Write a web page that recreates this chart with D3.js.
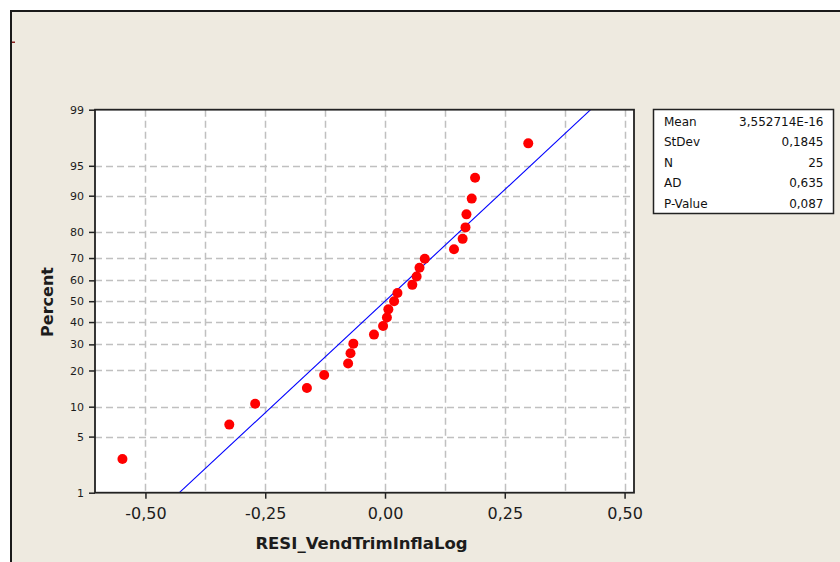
<!DOCTYPE html>
<html>
<head>
<meta charset="utf-8">
<script src="https://cdn.jsdelivr.net/npm/d3@7/dist/d3.min.js"></script>
<style>
  html, body { margin: 0; padding: 0; background: #ffffff; }
  svg { display: block; }
  text { font-family: "DejaVu Sans", Verdana, sans-serif; }
</style>
</head>
<body>
<svg id="chart" width="840" height="562"></svg>
<script>
// ---------------- data ----------------
const residuals = [-0.548, -0.325, -0.271, -0.163, -0.127, -0.077, -0.072, -0.066, -0.023, -0.004,
                   0.004, 0.007, 0.019, 0.026, 0.057, 0.066, 0.072, 0.083, 0.144, 0.162,
                   0.168, 0.170, 0.181, 0.188, 0.299];
const percents = [2.76, 6.69, 10.63, 14.57, 18.50, 22.44, 26.38, 30.31, 34.25, 38.19,
                  42.13, 46.06, 50.00, 53.94, 57.87, 61.81, 65.75, 69.69, 73.62, 77.56,
                  81.50, 85.43, 89.37, 93.31, 97.24];
const yTickValues = [1, 5, 10, 20, 30, 40, 50, 60, 70, 80, 90, 95, 99];
const xTickValues = [-0.5, -0.25, 0, 0.25, 0.5];
const xGridValues = [-0.5, -0.375, -0.25, -0.125, 0, 0.125, 0.25, 0.375, 0.5];
const statsLabels = ["Mean", "StDev", "N", "AD", "P-Value"];
const statsValues = ["3,552714E-16", "0,1845", "25", "0,635", "0,087"];
const fitMean = 3.552714e-16;
const fitSd = 0.1845;
const xTitle = "RESI_VendTrimInflaLog";
const yTitle = "Percent";

// inverse standard normal CDF (Acklam)
function qnorm(p) {
  const a = [-3.969683028665376e+01, 2.209460984245205e+02, -2.759285104469687e+02, 1.383577518672690e+02, -3.066479806614716e+01, 2.506628277459239e+00];
  const b = [-5.447609879822406e+01, 1.615858368580409e+02, -1.556989798598866e+02, 6.680131188771972e+01, -1.328068155288572e+01];
  const c = [-7.784894002430293e-03, -3.223964580411365e-01, -2.400758277161838e+00, -2.549732539343734e+00, 4.374664141464968e+00, 2.938163982698783e+00];
  const d = [7.784695709041462e-03, 3.224671290700398e-01, 2.445134137142996e+00, 3.754408661907416e+00];
  const pl = 0.02425, ph = 1 - pl;
  let q, r;
  if (p < pl) {
    q = Math.sqrt(-2 * Math.log(p));
    return (((((c[0]*q+c[1])*q+c[2])*q+c[3])*q+c[4])*q+c[5]) / ((((d[0]*q+d[1])*q+d[2])*q+d[3])*q+1);
  } else if (p <= ph) {
    q = p - 0.5; r = q * q;
    return (((((a[0]*r+a[1])*r+a[2])*r+a[3])*r+a[4])*r+a[5])*q / (((((b[0]*r+b[1])*r+b[2])*r+b[3])*r+b[4])*r+1);
  } else {
    q = Math.sqrt(-2 * Math.log(1 - p));
    return -(((((c[0]*q+c[1])*q+c[2])*q+c[3])*q+c[4])*q+c[5]) / ((((d[0]*q+d[1])*q+d[2])*q+d[3])*q+1);
  }
}
const zOf = pct => qnorm(pct / 100);

// ---------------- layout ----------------
const svg = d3.select("#chart");
const plot = { left: 95, top: 109.7, right: 634, bottom: 492.7 };

// frame background
svg.append("rect").attr("x", 11).attr("y", 11).attr("width", 840).attr("height", 562)
  .attr("fill", "#EEEAE0").attr("stroke", "#1a1a1a").attr("stroke-width", 2);
svg.append("rect").attr("x", 12).attr("y", 41.5).attr("width", 3).attr("height", 1.5).attr("fill", "#8b2020");

const x = d3.scaleLinear().domain([-0.6053, 0.5197]).range([plot.left, plot.right]);
const y = d3.scaleLinear().domain([zOf(1), zOf(99)]).range([plot.bottom, plot.top]);

// plot area
svg.append("rect").attr("x", plot.left).attr("y", plot.top)
  .attr("width", plot.right - plot.left).attr("height", plot.bottom - plot.top)
  .attr("fill", "#ffffff");

// grid
const grid = svg.append("g").attr("stroke", "#c0c0c0").attr("stroke-width", 1.5).attr("stroke-dasharray", "7,4");
grid.selectAll("line.v").data(xGridValues).enter().append("line")
  .attr("x1", d => Math.round(x(d)) + 0.5).attr("x2", d => Math.round(x(d)) + 0.5)
  .attr("y1", plot.top).attr("y2", plot.bottom);
grid.selectAll("line.h").data(yTickValues.filter(v => v !== 1 && v !== 99)).enter().append("line")
  .attr("y1", d => Math.round(y(zOf(d))) + 0.5).attr("y2", d => Math.round(y(zOf(d))) + 0.5)
  .attr("x1", plot.left).attr("x2", plot.right);

// fitted line
const zLo = zOf(1), zHi = zOf(99);
const fitPts = [[fitMean + fitSd * zLo, zLo], [fitMean + fitSd * zHi, zHi]];
svg.append("path").datum(fitPts)
  .attr("d", d3.line().x(d => x(d[0])).y(d => y(d[1])))
  .attr("stroke", "#0000ff").attr("stroke-width", 1.1).attr("fill", "none");

// points
svg.append("g").selectAll("circle").data(residuals).enter().append("circle")
  .attr("cx", d => x(d)).attr("cy", (d, i) => y(zOf(percents[i])))
  .attr("r", 5).attr("fill", "#ff0000");

// border of plot
svg.append("rect").attr("x", plot.left).attr("y", plot.top)
  .attr("width", plot.right - plot.left).attr("height", plot.bottom - plot.top)
  .attr("fill", "none").attr("stroke", "#222222").attr("stroke-width", 1.8);

// axes
const yAxis = d3.axisLeft(y).tickValues(yTickValues.map(zOf))
  .tickFormat((d, i) => String(yTickValues[i])).tickSize(6).tickPadding(5);
const gy = svg.append("g").attr("transform", `translate(${plot.left},0)`).call(yAxis);
gy.select(".domain").remove();
gy.selectAll("line").attr("stroke", "#222").attr("stroke-width", 1.5);
gy.selectAll("text").attr("font-size", 11).attr("fill", "#1c1c1c")
  .attr("font-family", "DejaVu Sans, sans-serif");

const xAxis = d3.axisBottom(x).tickValues(xTickValues)
  .tickFormat(d => d3.format(".2f")(d).replace("−", "-").replace(".", ",")).tickSize(6);
const gx = svg.append("g").attr("transform", `translate(0,${plot.bottom})`).call(xAxis);
gx.select(".domain").remove();
gx.selectAll("line").attr("stroke", "#222").attr("stroke-width", 1.5);
gx.selectAll("text").attr("font-size", 16).attr("fill", "#1c1c1c")
  .attr("font-family", "DejaVu Sans, sans-serif")
  .attr("dy", null).attr("y", 26.5);

// titles
svg.append("text").attr("x", (plot.left + plot.right) / 2 - 3).attr("y", 549)
  .attr("text-anchor", "middle").attr("font-size", 16.5).attr("font-weight", "bold")
  .attr("fill", "#1c1c1c").text(xTitle);
svg.append("text").attr("transform", `translate(53,302) rotate(-90)`)
  .attr("text-anchor", "middle").attr("font-size", 16).attr("font-weight", "bold")
  .attr("fill", "#1c1c1c").text(yTitle);

// stats box
const box = svg.append("g");
box.append("rect").attr("x", 653.5).attr("y", 109.5).attr("width", 180).attr("height", 104)
  .attr("fill", "#ffffff").attr("stroke", "#222").attr("stroke-width", 1.5);
box.selectAll("text.l").data(statsLabels).enter().append("text")
  .attr("x", 664).attr("y", (d, i) => 126 + i * 20.4)
  .attr("font-size", 12).attr("fill", "#111").text(d => d);
box.selectAll("text.v").data(statsValues).enter().append("text")
  .attr("x", 823.5).attr("y", (d, i) => 126 + i * 20.4).attr("text-anchor", "end")
  .attr("font-size", 12).attr("fill", "#111").text(d => d);
</script>
</body>
</html>
